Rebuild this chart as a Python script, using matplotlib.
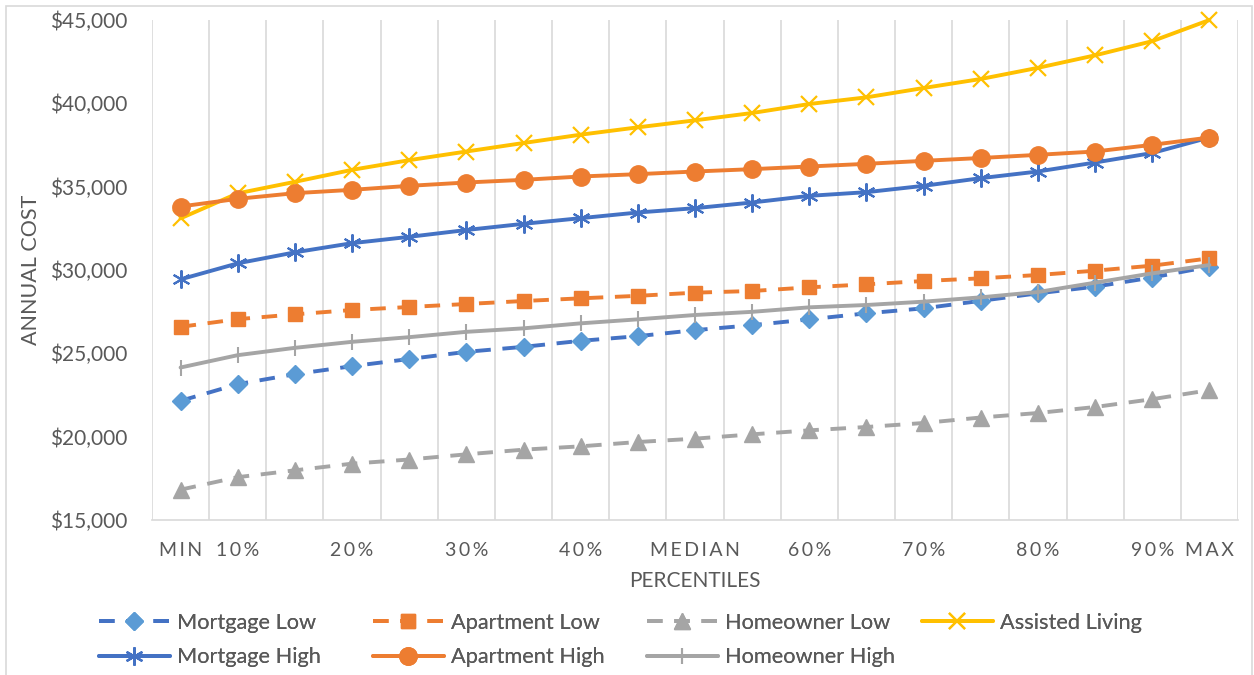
import matplotlib
matplotlib.use("Agg")
import matplotlib.pyplot as plt
from matplotlib.patches import Rectangle
from matplotlib.ticker import FuncFormatter, FixedLocator, MultipleLocator

plt.rcParams['font.family'] = ['Lato', 'DejaVu Sans']

# Percentile categories (MIN, 10%..90% in steps of 5, MAX)
percentiles = ["MIN", "10%", "15%", "20%", "25%", "30%", "35%", "40%", "45%",
               "MEDIAN", "55%", "60%", "65%", "70%", "75%", "80%", "85%", "90%", "MAX"]
tick_labels = ["MIN", "10%", "", "20%", "", "30%", "", "40%", "",
               "MEDIAN", "", "60%", "", "70%", "", "80%", "", "90%", "MAX"]

mortgage_low = [22150, 23150, 23750, 24230, 24660, 25090, 25390, 25750, 26030,
                26390, 26690, 27040, 27400, 27700, 28150, 28600, 29000, 29550, 30200]
apartment_low = [26590, 27050, 27340, 27600, 27780, 27960, 28140, 28300, 28450,
                 28640, 28740, 28960, 29140, 29340, 29500, 29700, 29960, 30260, 30700]
homeowner_low = [16820, 17570, 17980, 18380, 18630, 18940, 19220, 19420, 19680,
                 19880, 20140, 20380, 20580, 20820, 21150, 21420, 21780, 22250, 22790]
assisted_living = [33100, 34600, 35290, 36010, 36590, 37110, 37620, 38120, 38560,
                   38980, 39420, 39960, 40360, 40920, 41460, 42130, 42880, 43730, 45000]
mortgage_high = [29440, 30400, 31060, 31610, 31990, 32400, 32770, 33110, 33450,
                 33710, 34050, 34450, 34670, 35050, 35510, 35910, 36450, 37020, 37950]
apartment_high = [33810, 34270, 34610, 34810, 35050, 35250, 35410, 35610, 35750,
                  35910, 36050, 36210, 36370, 36550, 36720, 36910, 37110, 37510, 37950]
homeowner_high = [24150, 24890, 25330, 25690, 25970, 26290, 26500, 26800, 27040,
                  27300, 27490, 27760, 27900, 28100, 28360, 28680, 29240, 29800, 30300]

BLUE = "#4472C4"
LIGHT_BLUE = "#5B9BD5"
ORANGE = "#ED7D31"
GRAY = "#A5A5A5"
YELLOW = "#FFC000"
TEXT = "#595959"
GRID = "#D9D9D9"

fig = plt.figure(figsize=(12.54, 6.75), dpi=100)
fig.patch.set_facecolor("white")
ax = fig.add_axes([152 / 1254, 1 - 520 / 675, 1086 / 1254, 500 / 675])

x = list(range(len(percentiles)))
lw = 2.8
dash = (0, (4, 3))

series = [
    dict(y=mortgage_low, label="Mortgage Low", color=BLUE, ls=dash, marker="D",
         ms=9, mfc=LIGHT_BLUE, mec=LIGHT_BLUE, mew=1),
    dict(y=apartment_low, label="Apartment Low", color=ORANGE, ls=dash, marker="s",
         ms=10.5, mfc=ORANGE, mec=ORANGE, mew=1),
    dict(y=homeowner_low, label="Homeowner Low", color=GRAY, ls=dash, marker="^",
         ms=11, mfc=GRAY, mec=GRAY, mew=1),
    dict(y=assisted_living, label="Assisted Living", color=YELLOW, ls="-", marker="x",
         ms=11, mfc=YELLOW, mec=YELLOW, mew=1.6),
    dict(y=mortgage_high, label="Mortgage High", color=BLUE, ls="-", marker=(6, 2, 0),
         ms=13, mfc=BLUE, mec=BLUE, mew=1.5),
    dict(y=apartment_high, label="Apartment High", color=ORANGE, ls="-", marker="o",
         ms=12.5, mfc=ORANGE, mec=ORANGE, mew=1),
    dict(y=homeowner_high, label="Homeowner High", color=GRAY, ls="-", marker="|",
         ms=12, mfc=GRAY, mec=GRAY, mew=1.5),
]

handles = {}
for s in series:
    h, = ax.plot(x, s["y"], color=s["color"], linestyle=s["ls"], linewidth=lw,
                 marker=s["marker"], markersize=s["ms"], markerfacecolor=s["mfc"],
                 markeredgecolor=s["mec"], markeredgewidth=s["mew"],
                 label=s["label"], clip_on=False, solid_capstyle="round",
                 dash_capstyle="butt")
    handles[s["label"]] = h

ax.set_xlim(-0.5, len(percentiles) - 0.5)
ax.set_ylim(15000, 45000)
ax.yaxis.set_major_locator(MultipleLocator(5000))
ax.yaxis.set_major_formatter(FuncFormatter(lambda v, p: f"${v:,.0f}"))

# category boundaries as vertical gridlines
ax.xaxis.set_minor_locator(FixedLocator([i - 0.5 for i in range(len(percentiles) + 1)]))
ax.xaxis.set_major_locator(FixedLocator(x))
ax.set_xticklabels(["\u2009".join(t) for t in tick_labels])
ax.grid(which="minor", axis="x", color=GRID, linewidth=1.2)
ax.set_axisbelow(True)
ax.tick_params(axis="both", which="both", length=0)
ax.tick_params(axis="x", labelsize=14, labelcolor=TEXT, pad=15.5)
ax.tick_params(axis="y", labelsize=15, labelcolor=TEXT, pad=17.5)

for side in ("top", "right", "left"):
    ax.spines[side].set_visible(False)
ax.spines["bottom"].set_color(GRID)
ax.spines["bottom"].set_linewidth(1.2)

ax.set_ylabel("ANNUAL COST", fontsize=15.5, color=TEXT, labelpad=7)
ax.set_xlabel("PERCENTILES", fontsize=15, color=TEXT, labelpad=9)

# legend laid out in four evenly spaced columns
columns = [
    (["Mortgage Low", "Mortgage High"], 99),
    (["Apartment Low", "Apartment High"], 373),
    (["Homeowner Low", "Homeowner High"], 647),
    (["Assisted Living"], 922),
]
for names, px in columns:
    leg = fig.legend([handles[n] for n in names], names, loc="upper left",
                     bbox_to_anchor=(px / 1254, 1 - 613 / 675), frameon=False,
                     fontsize=15.7, labelcolor=TEXT, handlelength=3.25,
                     handletextpad=0.32, borderaxespad=0, borderpad=0,
                     labelspacing=0.65)
    fig.add_artist(leg)

# chart frame
fig.add_artist(Rectangle((6 / 1254, -0.01), 1246 / 1254, 1 - 6 / 675 + 0.01,
                         transform=fig.transFigure, fill=False,
                         edgecolor=GRID, linewidth=1.2))

fig.savefig("out.png", dpi=100, facecolor="white")
